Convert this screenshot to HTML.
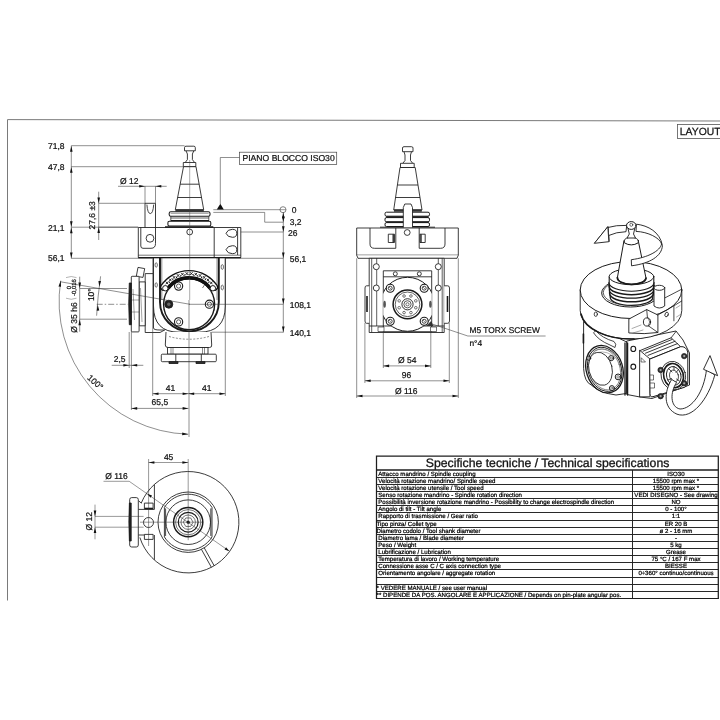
<!DOCTYPE html>
<html><head><meta charset="utf-8"><style>
html,body{margin:0;padding:0;background:#fff;}
svg{display:block;will-change:transform;} text{text-rendering:geometricPrecision;}
</style></head><body>
<svg width="720" height="720" viewBox="0 0 720 720">
<rect width="720" height="720" fill="#fff"/>
<g stroke="#7a7a7a" stroke-width="1" fill="none">
<path d="M7.5 600.5 V119.6 L720,121"/>
</g>
<rect x="677.5" y="124.5" width="50" height="14" fill="none" stroke="#555" stroke-width="0.8"/>
<text x="679.8" y="135.4" font-size="10.4" font-family="Liberation Sans, sans-serif" fill="#111" stroke="#111" stroke-width="0.25">LAYOUT</text>
<g stroke="#1e1e1e" fill="none">
<path d="M376.5,456 H718.3 M376.5,455.4 V599 M718.3,455.4 V599" stroke-width="1.25"/>
<path d="M376.5,470 H718.3" stroke-width="1.3"/>
<path d="M376.5,477.5 H718.3" stroke-width="0.95"/>
<path d="M376.5,484.5 H718.3" stroke-width="0.95"/>
<path d="M376.5,491.5 H718.3" stroke-width="0.95"/>
<path d="M376.5,498.5 H718.3" stroke-width="0.95"/>
<path d="M376.5,505.5 H718.3" stroke-width="0.95"/>
<path d="M376.5,512.5 H718.3" stroke-width="0.95"/>
<path d="M376.5,520.5 H718.3" stroke-width="0.95"/>
<path d="M376.5,527.5 H718.3" stroke-width="0.95"/>
<path d="M376.5,534.5 H718.3" stroke-width="0.95"/>
<path d="M376.5,541.5 H718.3" stroke-width="0.95"/>
<path d="M376.5,548.5 H718.3" stroke-width="0.95"/>
<path d="M376.5,555.5 H718.3" stroke-width="0.95"/>
<path d="M376.5,562.5 H718.3" stroke-width="0.95"/>
<path d="M376.5,569.5 H718.3" stroke-width="0.95"/>
<path d="M376.5,577.5 H718.3" stroke-width="0.95"/>
<path d="M376.5,584.5 H718.3" stroke-width="0.95"/>
<path d="M376.5,591.5 H718.3" stroke-width="0.95"/>
<path d="M376.5,598.5 H718.3" stroke-width="1.2"/>
<path d="M632.5,470 V598.5" stroke-width="0.95"/>
</g>
<text x="425.8" y="467" font-size="12.26" font-family="Liberation Sans, sans-serif" fill="#111" stroke="#111" stroke-width="0.3">Specifiche tecniche / Technical specifications</text>
<g font-size="6.1" font-family="Liberation Sans, sans-serif" fill="#000" stroke="#000" stroke-width="0.22">
<text x="378.3" y="476.00">Attacco mandrino / Spindle coupling</text>
<text x="676" y="476.00" text-anchor="middle">ISO30</text>
<text x="378.3" y="483.00">Velocità rotazione mandrino/ Spindle speed</text>
<text x="676" y="483.00" text-anchor="middle">15500 rpm max *</text>
<text x="378.3" y="490.00">Velocità rotazione utensile / Tool speed</text>
<text x="676" y="490.00" text-anchor="middle">15500 rpm max *</text>
<text x="378.3" y="497.00">Senso rotazione mandrino - Spindle rotation direction</text>
<text x="676" y="497.00" text-anchor="middle">VEDI DISEGNO - See drawing</text>
<text x="378.3" y="504.00">Possibilità inversione rotazione mandrino - Possibility to change electrospindle direction</text>
<text x="676" y="504.00" text-anchor="middle">NO</text>
<text x="378.3" y="511.00">Angolo di tilt - Tilt angle</text>
<text x="676" y="511.00" text-anchor="middle">0 - 100°</text>
<text x="378.3" y="518.00">Rapporto di trasmissione / Gear ratio</text>
<text x="676" y="518.00" text-anchor="middle">1:1</text>
<text x="376.6" y="526.00">Tipo pinza/ Collet type</text>
<text x="676" y="526.00" text-anchor="middle">ER 20 B</text>
<text x="376.6" y="533.00">Diametro codolo / Tool shank diameter</text>
<text x="676" y="533.00" text-anchor="middle">ø 2 - 16 mm</text>
<text x="378.3" y="540.00">Diametro lama / Blade diameter</text>
<text x="676" y="540.00" text-anchor="middle">-</text>
<text x="378.3" y="547.00">Peso / Weight</text>
<text x="676" y="547.00" text-anchor="middle">5 kg</text>
<text x="378.3" y="554.00">Lubrificazione / Lubrication</text>
<text x="676" y="554.00" text-anchor="middle">Grease</text>
<text x="378.3" y="561.00">Temperatura di lavoro / Working temperature</text>
<text x="676" y="561.00" text-anchor="middle">75 °C / 167 F max</text>
<text x="378.3" y="568.00">Connessione asse C / C axis connection type</text>
<text x="676" y="568.00" text-anchor="middle">BIESSE</text>
<text x="378.3" y="575.00">Orientamento angolare / aggregate rotation</text>
<text x="676" y="575.00" text-anchor="middle">0÷360° continuo/continuous</text>
<text x="376.6" y="590.00">* VEDERE MANUALE / see user manual</text>
<text x="376.6" y="597.00">** DIPENDE DA POS. ANGOLARE E APPLICAZIONE / Depends on pin-plate angular pos.</text>
</g>
<g stroke="#1a1a1a" stroke-width="0.85" fill="none" stroke-linejoin="round"><path d="M184.5,150.8 V147.6 Q184.5,146.2 186,146.2 H193.8 Q195.3,146.2 195.3,147.6 V150.8 Z" fill="#fff"/><path d="M186,150.8 L187.4,154 V159.6 L185.2,162.5 M193.8,150.8 L192.4,154 V159.6 L194.6,162.5"/><rect x="183.3" y="162.5" width="12.5" height="4.2" fill="#fff"/><path d="M183.5,166.7 H196 L203.7,209.7 H175.3 Z" fill="#fff"/><path d="M180.16,184.2 H199.13"/><path d="M177.63,197.5 H201.52"/><rect x="175.4" y="209.3" width="28.4" height="2.4" fill="#333" stroke="none"/><rect x="169.20" y="211.7" width="40.8" height="4.6" rx="1.6" fill="#fff" stroke-width="1.05"/><path d="M170.60,213.4 H208.60" stroke-width="0.4"/><path d="M170.80,216.3 V220.2 M208.80,216.3 V220.2 M170.80,218 H208.80" stroke-width="0.7"/><path d="M170.60,220.6 H209.00" stroke-width="1.2"/><rect x="167.90" y="221.3" width="42.9" height="4.6" rx="1.4" fill="#fff" stroke-width="1.05"/><path d="M165.00,226.9 H213.30" stroke-width="1.5"/><path d="M138.3,227.5 H240.8 V257.6 H138.3 Z" fill="none"/><path d="M138.3,255.2 H240.8" stroke-width="0.6"/><path d="M138.3,257.6 H240.8" stroke-width="1.2"/><path d="M214.2,227.5 V257.6 M237.6,228 V255"/><path d="M145,203.3 H155.5 V227.5 M145,203.3 V227.5" /><path d="M146.9,204.6 Q147.6,213.6 150.3,213.6 Q153,213.6 153.7,204.6" stroke-width="0.8"/><path d="M140.8,227.5 V246 Q140.8,248.3 143,248.3 H151 Q155.5,248.3 155.5,243.5 V227.5"/><circle cx="150" cy="238.3" r="3.9"/><circle cx="189.7" cy="232" r="2.9"/><path d="M226,233.3 Q227.5,229.3 232.5,229.3 Q236.8,229.3 236.8,233.3 Q236.8,237.3 232.5,237.3 Q227.5,237.3 226,233.3 Z" stroke-width="0.9"/><path d="M226,249.7 Q227.5,245.7 232.5,245.7 Q236.8,245.7 236.8,249.7 Q236.8,253.7 232.5,253.7 Q227.5,253.7 226,249.7 Z" stroke-width="0.9"/><path d="M153.5,258 V306 Q153.5,332.2 179,332.2 H199 Q225.3,332.2 225.3,306 V258" stroke-width="0.9"/><path d="M160,258 V302 A29.4,29.4 0 0 0 218.8,302 V258" stroke-width="1.9"/><path d="M161.8,258 V300 M217,258 V300" stroke-width="0.5"/><path d="M164.6,309 A27.5,27.5 0 0 0 213.8,309" stroke="#555" stroke-width="2.6"/><ellipse cx="156.2" cy="265" rx="1.2" ry="2.2" stroke-width="0.6"/><ellipse cx="156.2" cy="285" rx="1.2" ry="2.2" stroke-width="0.6"/><ellipse cx="222.3" cy="267" rx="1.2" ry="2.4" stroke-width="0.6"/><ellipse cx="222.3" cy="287.5" rx="1.2" ry="2.4" stroke-width="0.6"/><circle cx="189.1" cy="304.3" r="25.5" fill="#fff" stroke-width="1.4"/><path d="M163.73,287.19 A30.6,30.6 0 0 1 214.47,287.19" stroke="#111" stroke-width="7.4" stroke-linecap="round"/><path d="M163.73,287.19 A30.6,30.6 0 0 1 214.47,287.19" stroke="#fff" stroke-width="4.8" stroke-linecap="round"/><path d="M168.30,288.05 A26.4,26.4 0 0 1 209.90,288.05" stroke="#111" stroke-width="3.2"/><path d="M165.64,281.50 L168.24,284.30 M168.24,281.50 L165.64,284.30" stroke-width="0.9"/><circle cx="169.36" cy="282.24" r="0.65" fill="#111" stroke="none"/><path d="M168.99,278.51 L171.59,281.31 M171.59,278.51 L168.99,281.31" stroke-width="0.9"/><circle cx="172.78" cy="279.60" r="0.65" fill="#111" stroke="none"/><path d="M172.74,276.03 L175.34,278.83 M175.34,276.03 L172.74,278.83" stroke-width="0.9"/><circle cx="176.55" cy="277.49" r="0.65" fill="#111" stroke="none"/><path d="M176.81,274.13 L179.41,276.93 M179.41,274.13 L176.81,276.93" stroke-width="0.9"/><circle cx="180.58" cy="275.95" r="0.65" fill="#111" stroke="none"/><path d="M181.11,272.84 L183.71,275.64 M183.71,272.84 L181.11,275.64" stroke-width="0.9"/><circle cx="184.79" cy="275.01" r="0.65" fill="#111" stroke="none"/><path d="M185.55,272.18 L188.15,274.98 M188.15,272.18 L185.55,274.98" stroke-width="0.9"/><circle cx="189.10" cy="274.70" r="0.65" fill="#111" stroke="none"/><path d="M190.05,272.18 L192.65,274.98 M192.65,272.18 L190.05,274.98" stroke-width="0.9"/><circle cx="193.41" cy="275.01" r="0.65" fill="#111" stroke="none"/><path d="M194.49,272.84 L197.09,275.64 M197.09,272.84 L194.49,275.64" stroke-width="0.9"/><circle cx="197.62" cy="275.95" r="0.65" fill="#111" stroke="none"/><path d="M198.79,274.13 L201.39,276.93 M201.39,274.13 L198.79,276.93" stroke-width="0.9"/><circle cx="201.65" cy="277.49" r="0.65" fill="#111" stroke="none"/><path d="M202.86,276.03 L205.46,278.83 M205.46,276.03 L202.86,278.83" stroke-width="0.9"/><circle cx="205.42" cy="279.60" r="0.65" fill="#111" stroke="none"/><path d="M206.61,278.51 L209.21,281.31 M209.21,278.51 L206.61,281.31" stroke-width="0.9"/><circle cx="208.84" cy="282.24" r="0.65" fill="#111" stroke="none"/><path d="M209.96,281.50 L212.56,284.30 M212.56,281.50 L209.96,284.30" stroke-width="0.9"/><circle cx="165.31" cy="288.25" r="2.7" fill="#fff" stroke-width="1"/><circle cx="212.89" cy="288.25" r="2.7" fill="#fff" stroke-width="1"/><circle cx="178.6" cy="286.1" r="4.1" stroke-width="1.1"/><circle cx="178.6" cy="286.1" r="2.1" stroke-width="0.7"/><circle cx="209.4" cy="304.2" r="4.1" stroke-width="1.1"/><circle cx="209.4" cy="304.2" r="2.1" stroke-width="0.7"/><circle cx="178.6" cy="321.9" r="4.1" stroke-width="1.1"/><circle cx="178.6" cy="321.9" r="2.1" stroke-width="0.7"/><circle cx="168.8" cy="304.2" r="4" fill="#222"/><circle cx="168.8" cy="304.2" r="1.7" fill="#666" stroke="none"/><path d="M202.5,288 L204.8,284.5" stroke-width="0.6"/><path d="M189.7,160 V300" stroke="#444" stroke-width="0.45"/></g><g stroke="#1a1a1a" stroke-width="0.85" fill="#fff" stroke-linejoin="round"><path d="M145.2,273.6 H153.5 V328 Q153.5,330 160,330 H164.7 L160,332.5 H145.2 Z" /><path d="M136.3,276.3 L138,267.4 L144.7,268.6 L143,277.4 Z"/><rect x="139.1" y="281.9" width="6.1" height="43.9"/><rect x="131.3" y="276.3" width="7.8" height="55.6" rx="0.8"/><path d="M129.3,283 Q128.2,304 129.3,324.7 L131.3,324.7 V283 Z" fill="#222"/><path d="M131.3,300 H139 M131.3,312 H139 M133,289 L134.5,320 M140.5,288 L142,322" stroke-width="0.4" fill="none"/></g><g stroke="#1a1a1a" stroke-width="0.85" fill="#fff" stroke-linejoin="round"><path d="M166,332 L165.3,345 Q165.3,347.5 168,347.5 H209.5 Q212,347.5 211.7,345 L211,332" /><path d="M169,336.5 Q189,342 209,336.5" stroke-dasharray="2,1.5" stroke-width="0.5" fill="none"/><rect x="167.5" y="347.5" width="40.5" height="6.7"/><path d="M171,347.5 V354.2 M173,347.5 V354.2 M202.5,347.5 V354.2 M204.5,347.5 V354.2" stroke-width="0.5"/><rect x="161.3" y="354.2" width="55" height="7.5" rx="1"/><path d="M175.8,354.2 V361.7 M201.3,354.2 V361.7"/><path d="M169,361.7 h9 v1.8 h-9 Z M196,361.7 h9 v1.8 h-9 Z" fill="#333"/></g>
<g stroke="#333" stroke-width="0.55" fill="none">
<path d="M71.3,145.7 V258.5"/>
<path d="M71.3,145.7 H184.5 M71.3,166.7 H183.3 M71.3,227.2 H138.3 M71.3,258.3 H153.5"/>
<path d="M98.7,191.7 V240 M98.7,203.3 H145 M98.7,227.2 H138"/>
<path d="M118,186.3 H166.7 M145,186.3 V203.3 M155.5,186.3 V203.3"/>
<path d="M283.3,212.2 V332.5"/>
<path d="M213.3,209.7 H280 M213.3,212.4 H264.7 V222.2 H283.3 M240.8,232 H283.3 M225.3,258.3 H283.3 M189,304.3 H283.3 M211.7,332.2 H283.3"/>
<path d="M220.3,204 V157.5 H239.5"/>
<path d="M152.7,258.5 V396 M225.3,258.5 V396 M131.4,332 V410 M129.2,332 V368 M189,300 V437"/>
<path d="M152.7,393.7 H225.3 M131.4,408.4 H188.4 M111.7,365.3 H143.3"/>
<path d="M79.7,276.7 V331.7 M79.7,288.5 H127 M79.7,319.2 H127"/>
<path d="M60,281.7 L190,304.3"/>
<path d="M100.6,276.3 Q97.8,296 96.6,315.7"/>
<path d="M96.7,304.3 H128" stroke-dasharray="6,2,1.5,2"/>
<path d="M60.7,280.7 A132.9,132.9 0 0 0 188.2,434.2"/>
</g>
<path d="M71.30,145.90 L72.60,151.70 L70.00,151.70 Z" fill="#111" stroke="none"/><path d="M71.30,166.90 L72.60,172.70 L70.00,172.70 Z" fill="#111" stroke="none"/><path d="M71.30,227.00 L70.00,221.20 L72.60,221.20 Z" fill="#111" stroke="none"/><path d="M71.30,227.40 L72.60,233.20 L70.00,233.20 Z" fill="#111" stroke="none"/><path d="M71.30,258.30 L70.00,252.50 L72.60,252.50 Z" fill="#111" stroke="none"/><path d="M98.70,203.30 L97.40,197.50 L100.00,197.50 Z" fill="#111" stroke="none"/><path d="M98.70,227.20 L100.00,233.00 L97.40,233.00 Z" fill="#111" stroke="none"/><path d="M145.00,186.30 L139.20,187.60 L139.20,185.00 Z" fill="#111" stroke="none"/><path d="M155.50,186.30 L161.30,185.00 L161.30,187.60 Z" fill="#111" stroke="none"/><path d="M283.30,212.40 L284.60,218.20 L282.00,218.20 Z" fill="#111" stroke="none"/><path d="M283.30,222.20 L282.00,216.40 L284.60,216.40 Z" fill="#111" stroke="none"/><path d="M283.30,232.00 L282.00,226.20 L284.60,226.20 Z" fill="#111" stroke="none"/><path d="M283.30,258.30 L282.00,252.50 L284.60,252.50 Z" fill="#111" stroke="none"/><path d="M283.30,304.30 L282.00,298.50 L284.60,298.50 Z" fill="#111" stroke="none"/><path d="M283.30,332.20 L282.00,326.40 L284.60,326.40 Z" fill="#111" stroke="none"/><path d="M152.70,393.70 L158.50,392.40 L158.50,395.00 Z" fill="#111" stroke="none"/><path d="M188.40,393.70 L182.60,395.00 L182.60,392.40 Z" fill="#111" stroke="none"/><path d="M188.40,393.70 L194.20,392.40 L194.20,395.00 Z" fill="#111" stroke="none"/><path d="M225.30,393.70 L219.50,395.00 L219.50,392.40 Z" fill="#111" stroke="none"/><path d="M131.40,408.40 L137.20,407.10 L137.20,409.70 Z" fill="#111" stroke="none"/><path d="M188.40,408.40 L182.60,409.70 L182.60,407.10 Z" fill="#111" stroke="none"/><path d="M129.20,365.30 L123.40,366.60 L123.40,364.00 Z" fill="#111" stroke="none"/><path d="M131.40,365.30 L137.20,364.00 L137.20,366.60 Z" fill="#111" stroke="none"/><path d="M79.70,288.30 L78.40,282.50 L81.00,282.50 Z" fill="#111" stroke="none"/><path d="M79.70,319.40 L81.00,325.20 L78.40,325.20 Z" fill="#111" stroke="none"/><path d="M99.30,286.80 L98.41,280.92 L101.00,281.10 Z" fill="#111" stroke="none"/><path d="M97.70,304.80 L99.29,310.53 L96.69,310.66 Z" fill="#111" stroke="none"/><path d="M60.70,280.70 L61.04,286.83 L58.47,286.42 Z" fill="#111" stroke="none"/><path d="M188.20,434.20 L182.14,435.17 L182.28,432.57 Z" fill="#111" stroke="none"/>
<path d="M216.8,209.4 L220.3,203.8 L223.8,209.4 Z" fill="#111"/>
<circle cx="283" cy="209.7" r="3" fill="none" stroke="#333" stroke-width="0.6"/><path d="M280,209.7 H286" stroke="#333" stroke-width="0.5"/>
<rect x="239.5" y="152.2" width="97.2" height="12.3" fill="none" stroke="#444" stroke-width="0.7"/>
<g font-size="8.5" font-family="Liberation Sans, sans-serif" fill="#111" stroke="#111" stroke-width="0.22">
<text x="64.5" y="149" text-anchor="end">71,8</text>
<text x="64.5" y="170" text-anchor="end">47,8</text>
<text x="64.5" y="230.6" text-anchor="end">21,1</text>
<text x="64.5" y="261.4" text-anchor="end">56,1</text>
<text x="120" y="183.6">Ø 12</text>
<text x="291.7" y="212.6">0</text>
<text x="289.7" y="225.4">3,2</text>
<text x="288" y="235.9">26</text>
<text x="289.7" y="262">56,1</text>
<text x="289.7" y="307.8">108,1</text>
<text x="289.7" y="336.2">140,1</text>
<text x="242.5" y="161.3" font-size="8.6">PIANO BLOCCO ISO30</text>
<text x="113.7" y="362">2,5</text>
<text x="165.8" y="390.9">41</text>
<text x="202" y="390.9">41</text>
<text x="151.6" y="405">65,5</text>
<text transform="translate(95.2,215.3) rotate(-90)" text-anchor="middle">27,6 ±3</text>
<text transform="translate(77.3,317.5) rotate(-90)" text-anchor="middle">Ø 35 h6</text>
<text transform="translate(93.8,294.7) rotate(-90)" text-anchor="middle">10°</text>
<text transform="translate(95.4,382.2) rotate(42)" text-anchor="middle" dy="3">100°</text>
<text transform="translate(70.8,287.6) rotate(-90)" text-anchor="middle" font-size="6">0</text>
<text transform="translate(76.4,287.6) rotate(-90)" text-anchor="middle" font-size="6">-0,016</text>
<path d="M66,277.6 Q71.2,275.4 76.5,277.6 M66,298.2 Q71.2,300.4 76.5,298.2" stroke="#777" stroke-width="0.55" fill="none"/>
</g>
<g stroke="#1a1a1a" stroke-width="0.85" fill="#fff" stroke-linejoin="round"><path d="M402.5,151.7 V148 Q402.5,146.7 404,146.7 H411.5 Q413,146.7 413,148 V151.7 Z"/><path d="M404,151.7 L405,155 V160.5 L402.8,163.3 M411.5,151.7 L410.5,155 V160.5 L412.7,163.3" fill="none"/><rect x="400.5" y="163.3" width="13.7" height="4.2"/><path d="M400,167.5 H415.2 L422,210 H393.7 Z"/><path d="M397.41,185 H418.00" fill="none"/><path d="M395.55,197.5 H420.00" fill="none"/><rect x="394" y="209.3" width="27.8" height="2.4" fill="#333" stroke="none"/><rect x="385" y="212.2" width="44.5" height="4.0" rx="1.5" stroke-width="1"/><rect x="385" y="217.6" width="44.5" height="4.2" rx="1.5" stroke-width="1"/><rect x="385" y="222.6" width="44.5" height="3.9" rx="1.5" stroke-width="1"/><path d="M386,217 H428.5 M386,222.2 H428.5" stroke-width="1.3" fill="none"/><path d="M380,227.2 H435" stroke-width="0.9" fill="none"/><path d="M403.3,227.5 V207.5 L404.8,204 H411 L412.5,207.5 V227.5"/><rect x="356.7" y="228" width="101.6" height="27.2"/><path d="M356.7,255.2 L358,258.3 H457 L458.3,255.2" /><path d="M370,228 V244 Q370,248.3 374.5,248.3 H395.8 V228 M419.2,228 V248.3 H440.5 Q445,248.3 445,244 V228" fill="none"/><rect x="388.3" y="234.2" width="6.2" height="8.3"/><rect x="419.9" y="234.2" width="5.3" height="8.3"/><path d="M393.2,234.2 V242.5 M421,234.2 V242.5" stroke-width="1.3" fill="none"/><circle cx="407.2" cy="232.5" r="2.9"/><rect x="369.2" y="258.3" width="75" height="74.2"/><path d="M371.7,258.3 V332.5 M376.7,258.3 V326 M438.3,258.3 V326 M442.2,258.3 V332.5" fill="none" stroke-width="0.7"/><path d="M369.2,285.8 H366.5 Q365,285.8 365,288 V321 Q365,323.3 366.5,323.3 H369.2 M444.2,285.8 H447.7 Q449.5,285.8 449.5,288 V321 Q449.5,323.3 447.7,323.3 H444.2" /><path d="M367,296 V312 M447.5,296 V312" stroke-width="1.6" fill="none"/><circle cx="376.3" cy="266.7" r="3"/><circle cx="376.3" cy="288" r="3"/><circle cx="438.3" cy="266.7" r="3"/><circle cx="438.3" cy="288" r="3"/><rect x="383.3" y="270.8" width="48.4" height="60.9"/><path d="M383.3,276.8 H431.7" fill="none"/><circle cx="395.3" cy="273.8" r="2"/><circle cx="419.3" cy="273.8" r="2"/><path d="M376.7,326 H438.3 M369.2,326 H376.7 M438.3,326 H444.2" fill="none"/><rect x="378" y="327" width="6" height="4.5" stroke-width="0.6"/><rect x="430.5" y="327" width="6" height="4.5" stroke-width="0.6"/><clipPath id="gbclip"><rect x="383.3" y="270" width="48.4" height="62"/></clipPath><circle cx="407.5" cy="304.3" r="27" stroke-width="1" clip-path="url(#gbclip)"/><ellipse cx="384.6" cy="304.3" rx="1.3" ry="3.5" fill="#555" stroke="none"/><ellipse cx="430.4" cy="304.3" rx="1.3" ry="3.5" fill="#555" stroke="none"/><circle cx="390.2" cy="288.2" r="4" stroke-width="1.1"/><circle cx="390.2" cy="288.2" r="2" stroke-width="0.8"/><path d="M388.9,286.9 l2.6,2.6" stroke-width="0.5" fill="none"/><circle cx="424.2" cy="288.2" r="4" stroke-width="1.1"/><circle cx="424.2" cy="288.2" r="2" stroke-width="0.8"/><path d="M422.9,286.9 l2.6,2.6" stroke-width="0.5" fill="none"/><circle cx="390.2" cy="321.3" r="4" stroke-width="1.1"/><circle cx="390.2" cy="321.3" r="2" stroke-width="0.8"/><path d="M388.9,320.0 l2.6,2.6" stroke-width="0.5" fill="none"/><circle cx="424.2" cy="321.3" r="4" stroke-width="1.1"/><circle cx="424.2" cy="321.3" r="2" stroke-width="0.8"/><path d="M422.9,320.0 l2.6,2.6" stroke-width="0.5" fill="none"/><circle cx="407.5" cy="304.3" r="14.4" stroke-width="1.5"/><circle cx="407.5" cy="304.3" r="12.3" stroke-width="0.7"/><circle cx="415.81" cy="307.74" r="1.3" stroke-width="0.6"/><circle cx="410.94" cy="312.61" r="1.3" stroke-width="0.6"/><circle cx="404.06" cy="312.61" r="1.3" stroke-width="0.6"/><circle cx="399.19" cy="307.74" r="1.3" stroke-width="0.6"/><circle cx="399.19" cy="300.86" r="1.3" stroke-width="0.6"/><circle cx="404.06" cy="295.99" r="1.3" stroke-width="0.6"/><circle cx="410.94" cy="295.99" r="1.3" stroke-width="0.6"/><circle cx="415.81" cy="300.86" r="1.3" stroke-width="0.6"/><circle cx="407.5" cy="304.3" r="5.6" stroke-width="0.9"/><circle cx="407.5" cy="304.3" r="3.6" stroke-width="0.7"/><circle cx="407.5" cy="304.3" r="1.6" stroke-width="0.6"/><path d="M426.5,326 L431,321.5 L433,326" fill="#333" stroke-width="0.5"/></g><g stroke="#333" stroke-width="0.55" fill="none"><path d="M356.7,258.3 V398 M458.3,258.3 V398 M364.9,323 V383 M449.3,323 V383 M383.3,331.7 V368 M430.8,331.7 V368"/><path d="M383.3,365.9 H430.8 M364.9,380.8 H449.3 M356.7,396 H458.3"/><path d="M430,323.3 L467.8,336 H545.6"/></g><path d="M383.30,365.90 L389.10,364.60 L389.10,367.20 Z" fill="#111" stroke="none"/><path d="M430.80,365.90 L425.00,367.20 L425.00,364.60 Z" fill="#111" stroke="none"/><path d="M364.90,380.80 L370.70,379.50 L370.70,382.10 Z" fill="#111" stroke="none"/><path d="M449.30,380.80 L443.50,382.10 L443.50,379.50 Z" fill="#111" stroke="none"/><path d="M356.70,396.00 L362.50,394.70 L362.50,397.30 Z" fill="#111" stroke="none"/><path d="M458.30,396.00 L452.50,397.30 L452.50,394.70 Z" fill="#111" stroke="none"/><g font-size="8.5" font-family="Liberation Sans, sans-serif" fill="#111" stroke="#111" stroke-width="0.22"><text x="398" y="363.3">Ø 54</text><text x="401.8" y="377.9">96</text><text x="395" y="393.5">Ø 116</text><text x="469.6" y="333.2" font-size="8.35">M5 TORX SCREW</text><text x="469.4" y="346" font-size="8.4">n°4</text></g>
<g stroke="#1a1a1a" stroke-width="0.85" fill="none" stroke-linejoin="round"><path d="M141.28,503 A50.7,50.7 0 1 1 139.86,537.5"/><path d="M154.4,484.59 V509.4 M154.4,535 V559.81"/><path d="M138.3,509.4 H154.4 M138.3,535 H144.4 M138.6,500.8 L141.5,503.3"/><rect x="144.4" y="503.1" width="8.7" height="5.7" fill="#fff"/><path d="M144.6,508.4 H152.9" stroke-width="1.4"/><rect x="144.4" y="534.4" width="8.7" height="5" fill="#fff"/><circle cx="148.5" cy="522.5" r="5"/><rect x="129.7" y="497.6" width="8.6" height="49.4" rx="2" fill="#fff"/><path d="M129.4,503 Q128.4,522 129.4,541 L131.2,541 V503 Z" fill="#222"/><circle cx="188.2" cy="522.2" r="30.2"/><path d="M164.40,507.45 A28,28 0 0 1 212.00,507.45 V536.95 A28,28 0 0 1 164.40,536.95 Z"/><path d="M165.60,508.45 V535.95 M210.80,508.45 V535.95" stroke-width="0.8"/><circle cx="188.2" cy="522.2" r="22.3"/><circle cx="188.2" cy="522.2" r="14.6" stroke-width="1.5"/><circle cx="188.2" cy="522.2" r="12.6" stroke-width="0.6"/><circle cx="188.2" cy="522.2" r="9.9" stroke-width="1.2"/><circle cx="188.2" cy="522.2" r="7.2" stroke-width="0.6"/><polygon points="193.10,522.20 190.65,526.44 185.75,526.44 183.30,522.20 185.75,517.96 190.65,517.96" stroke-width="0.6"/><circle cx="188.2" cy="522.2" r="1.6" fill="#111" stroke="none"/><path d="M204.24,547.84 L214.18,565.77 M201.44,549.39 L211.38,567.32"/></g><g stroke="#333" stroke-width="0.5" fill="none"><path d="M188.2,459 V540.2"/><path d="M140,522.2 H202.2"/><path d="M148.6,459 V546 M148.6,462.5 H188.2"/><path d="M103.5,481.3 H129.2 L228.5,550.6"/><path d="M95,504.6 V539.3 M95,516.4 H143.6 M95,527.2 H143.6"/></g><path d="M148.60,462.50 L154.40,461.20 L154.40,463.80 Z" fill="#111" stroke="none"/><path d="M188.20,462.50 L182.40,463.80 L182.40,461.20 Z" fill="#111" stroke="none"/><path d="M229.40,551.30 L224.56,549.50 L226.04,547.37 Z" fill="#111" stroke="none"/><path d="M147.20,493.80 L152.04,495.60 L150.56,497.73 Z" fill="#111" stroke="none"/><path d="M95.00,516.40 L93.70,510.60 L96.30,510.60 Z" fill="#111" stroke="none"/><path d="M95.00,527.20 L96.30,533.00 L93.70,533.00 Z" fill="#111" stroke="none"/><g font-size="8.5" font-family="Liberation Sans, sans-serif" fill="#111" stroke="#111" stroke-width="0.22"><text x="163.9" y="459.7">45</text><text x="105.3" y="478.5">Ø 116</text><text transform="translate(91.6,521.3) rotate(-90)" text-anchor="middle">Ø 12</text></g>
<g stroke="#1a1a1a" stroke-width="0.9" fill="#fff" stroke-linejoin="round" stroke-linecap="round"><path d="M583.6,322 V368.7 Q584.5,382 591.2,385 Q600,393 616,395 L626,393.5 L628,343 Z"/><path d="M583.4,334 V343" stroke-width="1.6" fill="none"/><path d="M627,341 L676,331 L683,340 L689.5,353 L689.5,385 L652,398.5 L640,397 L627,394.5 Z"/><path d="M625,343 V395 M627.6,343 V395" stroke-width="1.3" fill="none"/><path d="M640,350.6 V396.8" stroke-width="0.8" fill="none"/><path d="M640,350.6 L671.1,337.8 L680.6,346.7 L650,359 Z" stroke-width="0.9"/><path d="M643,351.2 L672,339.5 M645.5,353.2 L675,341.3 M648,355.4 L677.5,343.6" stroke-width="0.9" stroke="#222" fill="none"/><path d="M671.1,337.8 L676,331.5" stroke-width="0.8" fill="none"/><path d="M640,350.6 L650,359 V396.7 L640,396.8 Z" stroke-width="0.8"/><path d="M641.5,358 L645.5,362 L641.5,362 Z" stroke-width="0.6"/><path d="M650,359 L680.6,346.7 Q686,346 687.8,352 V383 Q687.8,386 684.5,387.3 L653,396.7 Q650,397.5 650,394 Z" stroke-width="1"/><path d="M650.5,375 h3 v5 h-3 M650.5,383 h4 v5 h-4" stroke-width="0.6" fill="none"/><ellipse cx="673.3" cy="375.6" rx="12.2" ry="14.4" transform="rotate(-15 673.3 375.6)" stroke-width="0.8"/><ellipse cx="673.5" cy="375.6" rx="9.8" ry="12.2" transform="rotate(-15 673.5 375.6)" stroke-width="1.7"/><ellipse cx="673.8" cy="375.8" rx="7.2" ry="9.4" transform="rotate(-15 673.8 375.8)" stroke-width="0.9"/><ellipse cx="674" cy="376" rx="4.4" ry="6" transform="rotate(-15 674 376)" stroke-width="0.7"/><path d="M669,369 L672,372 M679,369 L676,372.5 M668,380 L671.5,378.5 M679.5,381 L676.5,379 M674,366.5 V370 M673.5,382 V385.5" stroke-width="0.8" fill="none"/><circle cx="684.2" cy="356.1" r="2.7" fill="#333" stroke-width="0.7"/><circle cx="684.2" cy="356.1" r="1.1" fill="#aaa" stroke="none"/><circle cx="660.6" cy="370" r="2.7" fill="#333" stroke-width="0.7"/><circle cx="660.6" cy="370" r="1.1" fill="#aaa" stroke="none"/><circle cx="684.2" cy="383.3" r="2.7" fill="#333" stroke-width="0.7"/><circle cx="684.2" cy="383.3" r="1.1" fill="#aaa" stroke="none"/><circle cx="660.6" cy="396.2" r="2.7" fill="#333" stroke-width="0.7"/><circle cx="660.6" cy="396.2" r="1.1" fill="#aaa" stroke="none"/><ellipse cx="633.3" cy="348.9" rx="2.4" ry="2.6" stroke-width="1.1"/><ellipse cx="633.3" cy="366.7" rx="2.4" ry="2.6" stroke-width="1.1"/><ellipse cx="604.5" cy="369.2" rx="18.2" ry="24.2" transform="rotate(-18 604.5 369.2)" stroke-width="1.3"/><ellipse cx="604.7" cy="369.3" rx="16.6" ry="22.6" transform="rotate(-18 604.7 369.3)" stroke-width="0.9"/><ellipse cx="604.8" cy="369.4" rx="15.2" ry="21" transform="rotate(-18 604.8 369.4)" stroke-width="0.5"/><ellipse cx="600.5" cy="368.8" rx="11.6" ry="16.8" transform="rotate(-14 600.5 368.8)" stroke-width="0.8"/><path d="M592,351.5 Q603,346.5 612,352 M593,354 Q603,349.5 611,354.5" stroke-width="0.5" fill="none" stroke="#666"/><circle cx="611.25" cy="358.1" r="2.6" stroke-width="1"/><circle cx="611.25" cy="358.1" r="1.17" stroke-width="0.5"/><circle cx="618.1" cy="376.9" r="2.9" stroke-width="1"/><circle cx="618.1" cy="376.9" r="1.30" stroke-width="0.5"/><circle cx="611.9" cy="388.1" r="2.5" stroke-width="1"/><circle cx="611.9" cy="388.1" r="1.12" stroke-width="0.5"/><circle cx="588.75" cy="358.1" r="2" stroke-width="1"/><circle cx="588.75" cy="358.1" r="0.90" stroke-width="0.5"/><path d="M593.7,333 Q598,340 610,345 L615,347.5 Q617,344 614,341.5 Q602,338 596,331 Z" stroke-width="0.8"/><path d="M580.2,290 V310.5 A50.8,28.5 0 0 0 681.8,310.5 V290 Z"/><path d="M581,314 A50.8,28.5 0 0 0 634,339" stroke-width="1.6" fill="none"/><ellipse cx="631" cy="290" rx="50.8" ry="28.5" stroke-width="1"/><ellipse cx="595.8" cy="314.2" rx="1.6" ry="2.2" stroke-width="0.8"/><ellipse cx="666.6" cy="314.5" rx="1.6" ry="2.4" stroke-width="0.8" transform="rotate(20 666.6 314.5)"/><path d="M629.2,318.9 L646.7,309.6 L657.9,315 L657.9,332.5 Q645,334.5 629.2,333 Z" stroke-width="0.9"/><path d="M646.7,309.6 L648.2,325.7 L657.9,332.5" fill="none" stroke-width="0.8"/><ellipse cx="647" cy="322" rx="3.6" ry="4.1" stroke-width="0.9"/><path d="M648.5,318.3 Q651,322 648.5,325.8" fill="none" stroke-width="0.6"/><path d="M632,328.5 L641,325 M633,333 L643,330" stroke-width="0.5" fill="none" stroke="#555"/><path d="M657.9,315 L673.9,305.8 L681.7,301 M673.9,305.8 V320.8 M664.7,298 L681.7,289.2" fill="none" stroke-width="0.8"/><path d="M676,308 L680,305.5 M676.5,317 L680.5,314.5" stroke-width="0.5" fill="none" stroke="#555"/><ellipse cx="630.5" cy="293" rx="28.8" ry="14" stroke-width="1"/><ellipse cx="630.5" cy="292.6" rx="27.2" ry="12.8" stroke-width="0.7"/><path d="M610.20,293.2 L610.20,297.2 A21.3,8.2 0 0 0 652.80,297.2 L652.80,293.2" stroke-width="1.3"/><path d="M609.70,289.6 L609.70,293.6 A21.8,8.2 0 0 0 653.30,293.6 L653.30,289.6" stroke-width="1.6"/><path d="M609.40,286 L609.40,290 A22.1,8.2 0 0 0 653.60,290 L653.60,286" stroke-width="1.3"/><path d="M609.20,282.5 L609.20,286.5 A22.3,8.2 0 0 0 653.80,286.5 L653.80,282.5" stroke-width="1.6"/><path d="M609.2,276.7 V283 A22.3,8.2 0 0 0 653.8,283 V276.7" stroke-width="1.1"/><ellipse cx="631.5" cy="276.7" rx="22.3" ry="8" stroke-width="1"/><path d="M654,287.8 V306 Q659.3,310 664.7,306 V287.8 Z" stroke-width="0.9"/><ellipse cx="659.35" cy="287.8" rx="5.35" ry="2.5" stroke-width="0.9"/><path d="M623.9,241.1 L617.4,277.6 A14.3,6.5 0 0 0 646,278.1 L638.3,241 Z" stroke-width="1"/><path d="M617.4,277.6 A14.3,6.5 0 0 0 646,278.1" stroke-width="1.8" fill="none"/><ellipse cx="631.3" cy="240.7" rx="7" ry="3.4"/><path d="M624.3,240.7 V242.8 Q631.3,247 638.3,242.8 V240.7" stroke-width="1"/><path d="M628,228.5 L629.3,234 L627,238 H635.5 L633.5,234 L634.8,228.5 Z"/><ellipse cx="631.3" cy="225.5" rx="4.8" ry="3.9" stroke-width="1"/><circle cx="631.3" cy="224.8" r="1.5" stroke-width="0.6"/></g>
<g stroke="#1a1a1a" stroke-width="0.9" fill="#fff" stroke-linejoin="round"><path d="M607.8,227.5 Q616,225 626.7,225.4 L626,231.7 Q616,232 608.7,235.5 Z"/><path d="M594.4,243.3 L607.8,226.7 L608.2,232 M608.7,235.5 L608.9,241.7 Z"/><path d="M594.4,243.3 L607.8,226.7 L608.9,241.7 Z"/><path d="M636.4,224.2 C648,225.5 660,232 662.4,245.5 C662,256 650,263.5 631.5,265.8 L631.3,259.7 C648,257.5 660,251 661.6,244 C660,238 648,231.8 636,231.4 Z"/><path d="M671.7,379.4 C664,392 663,408 677,414.2 C692,419.5 708,400 714.8,375 L706.5,369.5 C704,392 692,409 680,409 C670,407 670,392 676.6,382.5 Z"/><path d="M703.5,369.3 L710,355.6 L717.6,375.7 Z"/></g>
</svg>
</body></html>
